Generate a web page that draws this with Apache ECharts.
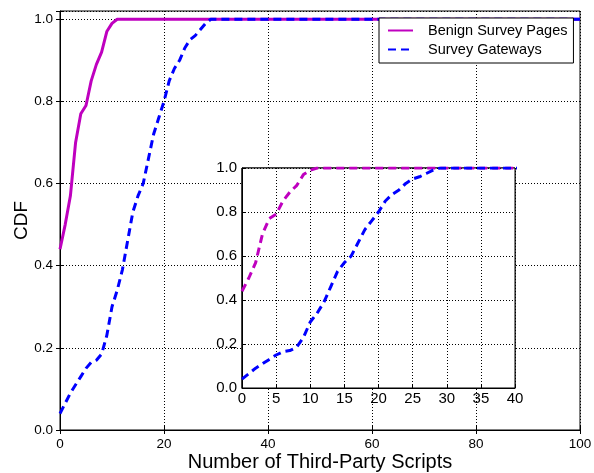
<!DOCTYPE html>
<html>
<head>
<meta charset="utf-8">
<script src="https://cdn.jsdelivr.net/npm/echarts@6/dist/echarts.min.js"></script>
<style>
  html, body { margin: 0; padding: 0; background: #fff; }
  #chart { width: 594px; height: 473px; }
</style>
</head>
<body>
<div id="chart"></div>
<script>
// CDF of third-party script counts
const benignX = [0, 1, 2, 3, 4, 5, 6, 7, 8, 9, 10, 11, 100];
const benignY = [0.44, 0.50, 0.57, 0.70, 0.77, 0.79, 0.85, 0.89, 0.92, 0.97, 0.99, 1.0, 1.0];
const gatewayX = [0, 1, 2, 3, 4, 5, 6, 7, 8, 9, 10, 11, 12, 13, 14, 15, 16, 17, 18, 19, 20, 21, 22, 23, 24, 25, 26, 27, 28, 29, 100];
const gatewayY = [0.04, 0.065, 0.09, 0.11, 0.13, 0.15, 0.165, 0.17, 0.185, 0.23, 0.30, 0.34, 0.39, 0.46, 0.53, 0.57, 0.60, 0.66, 0.72, 0.76, 0.80, 0.85, 0.88, 0.90, 0.93, 0.95, 0.96, 0.975, 0.99, 1.0, 1.0];
const legendNames = ["Benign Survey Pages", "Survey Gateways"];

const font = "Liberation Sans, Arial, sans-serif";
const magenta = "#bf00bf";
const blue = "#0000ff";
const dotted = { show: true, lineStyle: { color: "#000", width: 1, type: [1, 2] } };
const tick = { show: true, inside: true, length: 4, lineStyle: { color: "#000" } };

function pairs(xs, ys) {
    return xs.map((x, i) => [x, ys[i]]);
}
function oneDecimal(v) {
    return v > 1.001 ? "" : v.toFixed(1);
}

let chart = echarts.init(document.getElementById("chart"), null, { renderer: "canvas" });

let option = {
    animation: false,
    backgroundColor: "#fff",
    legend: {
        data: legendNames,
        orient: "vertical",
        left: 379,
        top: 18,
        backgroundColor: "#fff",
        borderColor: "#000",
        borderWidth: 1,
        borderRadius: 0,
        padding: [5, 6, 6, 8],
        itemGap: 4,
        itemWidth: 25,
        itemHeight: 14,
        itemStyle: { opacity: 0 },
        textStyle: { fontFamily: font, fontSize: 14.5, color: "#000", padding: [0, 0, 0, 10] }
    },
    grid: [
        { left: 60, right: 14, top: 11, bottom: 43, show: true, borderColor: "#000", borderWidth: 1, outerBoundsMode: "none" },
        { left: 242, right: 79, top: 168, bottom: 85, show: true, borderColor: "#000", borderWidth: 1, outerBoundsMode: "none" }
    ],
    xAxis: [
        {
            gridIndex: 0, type: "value", min: 0, max: 100, interval: 20,
            name: "Number of Third-Party Scripts", nameLocation: "middle", nameGap: 22, nameMoveOverlap: false,
            nameTextStyle: { fontFamily: font, fontSize: 20, color: "#000" },
            axisLine: { show: true, lineStyle: { color: "#000" } },
            axisTick: tick,
            axisLabel: { fontFamily: font, fontSize: 13.5, color: "#000", margin: 7 },
            splitLine: dotted
        },
        {
            gridIndex: 0, type: "value", min: 0, max: 100, interval: 20, position: "top",
            axisLine: { show: false },
            axisTick: tick,
            axisLabel: { show: false },
            splitLine: { show: false }
        },
        {
            gridIndex: 1, type: "value", min: 0, max: 40, interval: 5, z: 6,
            axisLine: { show: true, lineStyle: { color: "#000" } },
            axisTick: tick,
            axisLabel: { fontFamily: font, fontSize: 15, color: "#000", margin: 3 },
            splitLine: dotted
        }
    ],
    yAxis: [
        {
            gridIndex: 0, type: "value", min: 0, max: 1.02, interval: 0.2,
            name: "CDF", nameLocation: "middle", nameGap: 29, nameMoveOverlap: false,
            nameTextStyle: { fontFamily: font, fontSize: 19, color: "#000" },
            axisLine: { show: true, lineStyle: { color: "#000" } },
            axisTick: tick,
            axisLabel: { fontFamily: font, fontSize: 13.5, color: "#000", margin: 7, formatter: oneDecimal },
            splitLine: dotted
        },
        {
            gridIndex: 0, type: "value", min: 0, max: 1.02, interval: 0.2, position: "right",
            axisLine: { show: false },
            axisTick: tick,
            axisLabel: { show: false },
            splitLine: { show: false }
        },
        {
            gridIndex: 1, type: "value", min: 0, max: 1.0, interval: 0.2, z: 6,
            axisLine: { show: true, lineStyle: { color: "#000" } },
            axisTick: tick,
            axisLabel: { fontFamily: font, fontSize: 15, color: "#000", margin: 5, formatter: oneDecimal },
            splitLine: dotted
        }
    ],
    series: [
        {
            name: legendNames[0], type: "line", xAxisIndex: 0, yAxisIndex: 0,
            data: pairs(benignX, benignY), symbol: "none",
            lineStyle: { color: magenta, width: 3 }, itemStyle: { color: magenta }, z: 2
        },
        {
            name: legendNames[1], type: "line", xAxisIndex: 0, yAxisIndex: 0,
            data: pairs(gatewayX, gatewayY), symbol: "none",
            lineStyle: { color: blue, width: 3, type: [8, 5] }, itemStyle: { color: blue }, z: 3
        },
        {
            name: "inset benign", type: "line", xAxisIndex: 2, yAxisIndex: 2,
            data: pairs(benignX, benignY), symbol: "none",
            lineStyle: { color: magenta, width: 3, type: [8, 5] }, z: 7
        },
        {
            name: "inset gateways", type: "line", xAxisIndex: 2, yAxisIndex: 2,
            data: pairs(gatewayX, gatewayY), symbol: "none",
            lineStyle: { color: blue, width: 3, type: [8, 5] }, z: 8
        }
    ]
};

chart.setOption(option, true);

// white backing for the inset, so the main grid lines do not show through it
let topLeft = chart.convertToPixel({ gridIndex: 1 }, [0, 1]);
let bottomRight = chart.convertToPixel({ gridIndex: 1 }, [40, 0]);
chart.setOption({
    graphic: [{
        type: "rect", z: 4, silent: true,
        shape: { x: topLeft[0], y: topLeft[1], width: bottomRight[0] - topLeft[0], height: bottomRight[1] - topLeft[1] },
        style: { fill: "#fff", stroke: "#000", lineWidth: 1 }
    }]
});
</script>
</body>
</html>
